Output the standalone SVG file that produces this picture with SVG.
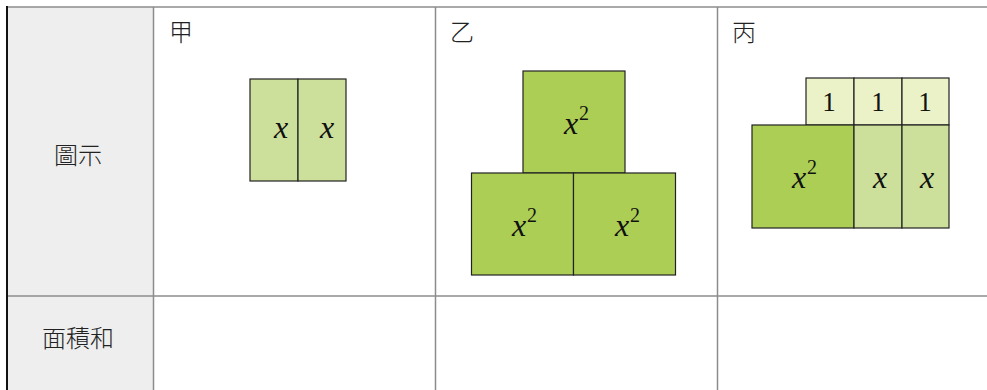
<svg xmlns="http://www.w3.org/2000/svg" width="987" height="390" viewBox="0 0 987 390">
  <style>
    .grid { stroke: #8c8c8c; stroke-width: 1.5; fill: none; }
    .cjk { font-family: "Noto Sans CJK TC", "Noto Sans CJK SC", sans-serif; font-size: 24px; font-weight: 300; fill: #222; }
    .tile { stroke: #222; stroke-width: 1.2; }
    .t1 { fill: #ebf2c8; }
    .tx { fill: #cde09b; }
    .tx2 { fill: #acce55; }
    .var { font-family: "Liberation Serif", serif; font-style: italic; font-size: 32px; fill: #111; text-anchor: middle; }
    .num { font-family: "Liberation Serif", serif; font-size: 27px; fill: #111; text-anchor: middle; }
    .sup { font-family: "Liberation Serif", serif; font-size: 20px; fill: #111; }
  </style>

  <!-- table background and grid -->
  <g id="table">
    <rect x="7" y="7" width="146" height="383" fill="#edeeed"/>
    <line class="grid" x1="7" y1="7" x2="987" y2="7"/>
    <line class="grid" x1="7" y1="296" x2="987" y2="296"/>
    <line class="grid" x1="153.5" y1="7" x2="153.5" y2="390"/>
    <line class="grid" x1="435.5" y1="7" x2="435.5" y2="390"/>
    <line class="grid" x1="717.5" y1="7" x2="717.5" y2="390"/>
    <line x1="7" y1="6" x2="7" y2="390" stroke="#111" stroke-width="2"/>
  </g>

  <!-- row and column headings -->
  <g id="headings">
    <text class="cjk" x="54" y="164">圖示</text>
    <text class="cjk" x="42" y="347">面積和</text>
    <text class="cjk" x="169" y="41">甲</text>
    <text class="cjk" x="450" y="41">乙</text>
    <text class="cjk" x="732" y="41">丙</text>
  </g>

  <!-- 甲: two x tiles -->
  <g id="jia">
    <rect class="tile tx" x="250" y="79" width="48" height="102"/>
    <rect class="tile tx" x="298" y="79" width="48" height="102"/>
    <text class="var" x="281" y="138">x</text>
    <text class="var" x="327" y="138">x</text>
  </g>

  <!-- 乙: three x² tiles -->
  <g id="yi">
    <rect class="tile tx2" x="523" y="71" width="102" height="102"/>
    <rect class="tile tx2" x="471.5" y="173" width="102" height="102"/>
    <rect class="tile tx2" x="573.5" y="173" width="102" height="102"/>
    <text class="var" x="571" y="134">x</text>
    <text class="sup" x="579" y="120">2</text>
    <text class="var" x="519" y="236">x</text>
    <text class="sup" x="527" y="222">2</text>
    <text class="var" x="622" y="236">x</text>
    <text class="sup" x="630" y="222">2</text>
  </g>

  <!-- 丙: one x² tile, two x tiles, three unit tiles -->
  <g id="bing">
    <rect class="tile t1" x="806" y="78" width="48" height="47"/>
    <rect class="tile t1" x="854" y="78" width="48" height="47"/>
    <rect class="tile t1" x="902" y="78" width="47" height="47"/>
    <rect class="tile tx2" x="752" y="125" width="102" height="103"/>
    <rect class="tile tx" x="854" y="125" width="48" height="103"/>
    <rect class="tile tx" x="902" y="125" width="47" height="103"/>
    <text class="num" x="829" y="111">1</text>
    <text class="num" x="878" y="111">1</text>
    <text class="num" x="925" y="111">1</text>
    <text class="var" x="799" y="188">x</text>
    <text class="sup" x="807" y="174">2</text>
    <text class="var" x="880" y="188">x</text>
    <text class="var" x="927" y="188">x</text>
  </g>
</svg>
